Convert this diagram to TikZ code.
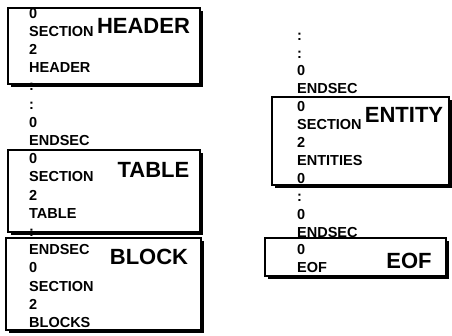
\documentclass[tikz,border=0pt]{standalone}
\usepackage{fontspec}
\setmainfont{Liberation Sans}
\usepackage{tikz}

\begin{document}
\begin{tikzpicture}[x=1pt,y=-1pt,line join=miter,
    listing/.style={font=\fontsize{14.5}{17}\selectfont\bfseries,anchor=west,inner sep=0pt,text height=10.4pt,text depth=0pt},
    title/.style={font=\fontsize{22}{24}\selectfont\bfseries,inner sep=0pt,text height=15.8pt,text depth=0pt},
    box/.style={draw,line width=1.1pt},
    shade/.style={line width=2.6pt}]
    \useasboundingbox (0,0) rectangle (452,336);
    % left listing
    \foreach \word [count=\i] in {0,SECTION,2,HEADER,:,:,0,ENDSEC,0,SECTION,2,TABLE,:,ENDSEC,0,SECTION,2,BLOCKS}
        \node[listing] (lft-\i) at (29,{13+(\i-1)*18.2}) {\word};
    % right listing
    \foreach \word [count=\i] in {:,:,0,ENDSEC,0,SECTION,2,ENTITIES,0,:,0,ENDSEC,0,EOF}
        \node[listing] (rgt-\i) at (297,{35+(\i-1)*17.9}) {\word};
    % section frames
    \foreach \xa/\ya/\xb/\yb in {8/8/200/84,8/150/200/232,6/238/201/330,272/97/449/185,265/238/446/276}{
        \draw[box] (\xa,\ya) rectangle (\xb,\yb);
        \draw[shade] ({\xa+3},{\yb+1.3}) -- ({\xb+1.3},{\yb+1.3}) -- ({\xb+1.3},{\ya+3});
    }
    \node[title] (hdr) at (143.5,26) {HEADER};
    \node[title] (tbl) at (153.5,170) {TABLE};
    \node[title] (blk) at (149,257) {BLOCK};
    \node[title] (ent) at (404,115) {ENTITY};
    \node[title] (eof) at (409,261) {EOF};
\end{tikzpicture}
\end{document}
